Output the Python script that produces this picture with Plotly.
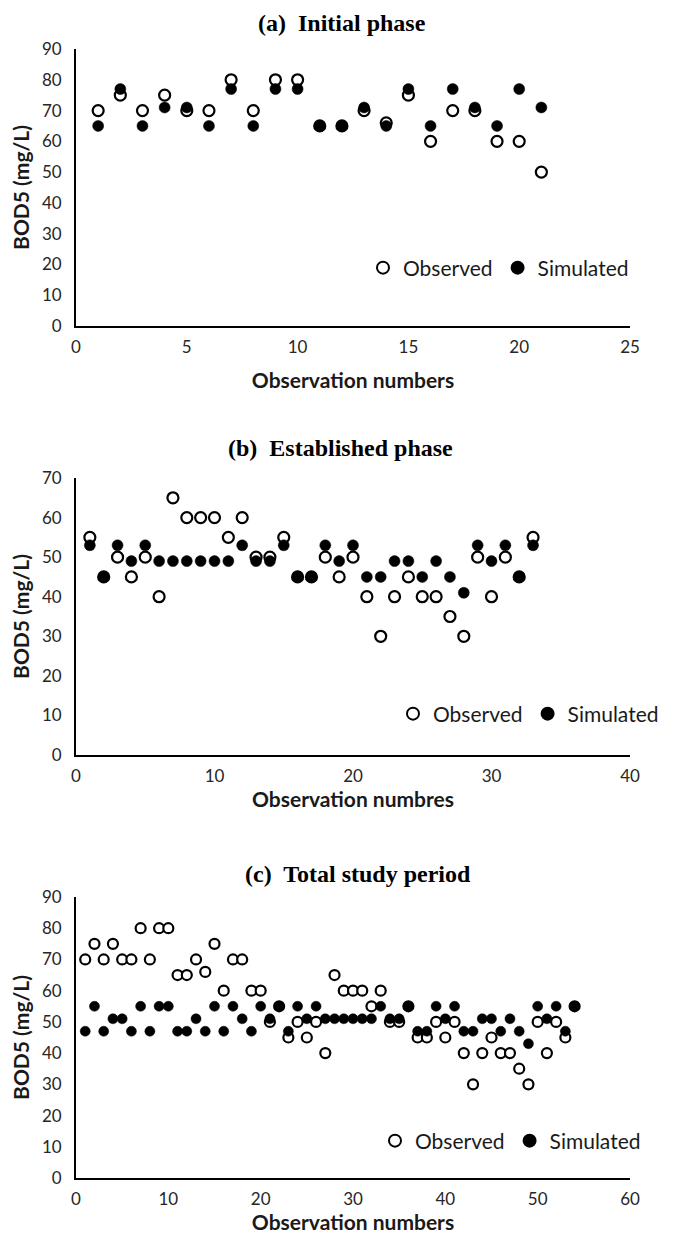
import plotly.graph_objects as go

# page is 685x1242; the default 8px body margin surrounds the figure
PAGE_W, PAGE_H = 685, 1242
OFF = 8
W, H = PAGE_W - 2 * OFF, PAGE_H - 2 * OFF

# ---------------- data ----------------
a_x = [1, 2, 3, 4, 5, 6, 7, 8, 9, 10, 11, 12, 13, 14, 15, 16, 17, 18, 19, 20, 21]
a_obs = [70, 75, 70, 75, 70, 70, 80, 70, 80, 80, 65, 65, 70, 66, 75, 60, 70, 70, 60, 60, 50]
a_sim = [65, 77, 65, 71, 71, 65, 77, 65, 77, 77, 65, 65, 71, 65, 77, 65, 77, 71, 65, 77, 71]

b_x = [1, 2, 3, 4, 5, 6, 7, 8, 9, 10, 11, 12, 13, 14, 15, 16, 17, 18, 19, 20, 21, 22,
       23, 24, 25, 26, 27, 28, 29, 30, 31, 32, 33]
b_obs = [55, 45, 50, 45, 50, 40, 65, 60, 60, 60, 55, 60, 50, 50, 55, 45, 45, 50, 45, 50,
         40, 30, 40, 45, 40, 40, 35, 30, 50, 40, 50, 45, 55]
b_sim = [53, 45, 53, 49, 53, 49, 49, 49, 49, 49, 49, 53, 49, 49, 53, 45, 45, 53, 49, 53,
         45, 45, 49, 49, 45, 49, 45, 41, 53, 49, 53, 45, 53]

c_x = [1, 2, 3, 4, 5, 6, 7, 8, 9, 10, 11, 12, 13, 14, 15, 16, 17, 18, 19, 20, 21, 22,
       23, 24, 25, 26, 27, 28, 29, 30, 31, 32, 33, 34, 35, 36, 37, 38, 39, 40, 41, 42,
       43, 44, 45, 46, 47, 48, 49, 50, 51, 52, 53, 54]
c_obs = [70, 75, 70, 75, 70, 70, 80, 70, 80, 80, 65, 65, 70, 66, 75, 60, 70, 70, 60, 60, 50,
         55, 45, 50, 45, 50, 40, 65, 60, 60, 60, 55, 60, 50, 50, 55, 45, 45, 50, 45, 50,
         40, 30, 40, 45, 40, 40, 35, 30, 50, 40, 50, 45, 55]
c_sim = [47, 55, 47, 51, 51, 47, 55, 47, 55, 55, 47, 47, 51, 47, 55, 47, 55, 51, 47, 55, 51,
         55, 47, 55, 51, 55, 51, 51, 51, 51, 51, 51, 55, 51, 51, 55, 47, 47, 55, 51, 55,
         47, 47, 51, 51, 47, 51, 47, 43, 55, 51, 55, 47, 55]

titles = ["(a)  Initial phase", "(b)  Established phase", "(c)  Total study period"]
x_titles = ["Observation numbers", "Observation numbres", "Observation numbers"]
y_title = "BOD5 (mg/L)"
x_ranges = [[0, 25], [0, 40], [0, 60]]
x_dticks = [5, 10, 10]
y_ranges = [[0, 90], [0, 70], [0, 90]]

# ---------------- layout geometry (page pixels) ----------------
px_left, px_right = 76, 630
panels_px = [(49, 326), (478, 755), (897, 1178)]   # (top, bottom)
title_y_px = [8, 433, 859]        # top edge of title box
title_x_px = [342, 340, 358]
legend_y_px = [268, 714, 1141]
legend_x_px = [634, 664, 646]
marker_sizes = [11, 11, 10]
xtitle_standoff = [17, 6, 17]

def fy(px):
    return 1 - (px - OFF) / H

def fx(px):
    return (px - OFF) / W

tick_font = dict(family="Lato", size=17, color="#262626")
axis_title_font = dict(family="Lato", size=21, color="#1a1a1a")

fig = go.Figure()
datasets = [(a_x, a_obs, a_sim), (b_x, b_obs, b_sim), (c_x, c_obs, c_sim)]

layout = dict(
    template="none",
    width=W, height=H,
    margin=dict(l=0, r=0, t=0, b=0, autoexpand=False),
    paper_bgcolor="white", plot_bgcolor="white",
    showlegend=True,
    annotations=[],
)

for i, (xs, obs, sim) in enumerate(datasets):
    n = "" if i == 0 else str(i + 1)
    leg = "legend" if i == 0 else "legend" + str(i + 1)
    fig.add_trace(go.Scatter(
        x=xs, y=obs, mode="markers", name="Observed",
        xaxis="x" + n, yaxis="y" + n, legend=leg,
        marker=dict(size=marker_sizes[i], color="white", symbol="circle",
                    line=dict(color="black", width=2.2)),
    ))
    fig.add_trace(go.Scatter(
        x=xs, y=sim, mode="markers", name="Simulated",
        xaxis="x" + n, yaxis="y" + n, legend=leg,
        marker=dict(size=marker_sizes[i], color="black", symbol="circle",
                    line=dict(color="black", width=0.5)),
    ))
    top, bot = panels_px[i]
    layout["xaxis" + n] = dict(
        domain=[fx(px_left), fx(px_right)],
        range=x_ranges[i], dtick=x_dticks[i], tick0=0,
        anchor="y" + n, automargin=False,
        showgrid=False, zeroline=False,
        showline=True, linecolor="black", linewidth=1.8,
        ticks="", tickfont=tick_font, ticklabelstandoff=5,
        title=dict(text="<b>" + x_titles[i] + "</b>", font=axis_title_font,
                   standoff=xtitle_standoff[i]),
        fixedrange=True,
    )
    layout["yaxis" + n] = dict(
        domain=[fy(bot), fy(top)],
        range=y_ranges[i], dtick=10, tick0=0,
        anchor="x" + n, automargin=False,
        showgrid=False, zeroline=False,
        showline=True, linecolor="black", linewidth=1.8,
        ticks="", tickfont=tick_font, ticklabelstandoff=9,
        title=dict(text="<b>" + y_title + "</b>", font=axis_title_font, standoff=33),
        fixedrange=True,
    )
    layout[leg] = dict(
        orientation="h", x=fx(legend_x_px[i]), xanchor="right",
        y=fy(legend_y_px[i]), yanchor="middle",
        font=dict(family="Lato", size=21, color="#1a1a1a"),
        bgcolor="rgba(0,0,0,0)", itemwidth=30, tracegroupgap=0,
        itemsizing="constant",
    )
    layout["annotations"].append(dict(
        text="<b>" + titles[i] + "</b>", xref="paper", yref="paper",
        x=fx(title_x_px[i]), y=fy(title_y_px[i]), xanchor="center", yanchor="top",
        showarrow=False, font=dict(family="Liberation Serif", size=24, color="black"),
    ))

fig.update_layout(**layout)
fig.write_html("out.html")
